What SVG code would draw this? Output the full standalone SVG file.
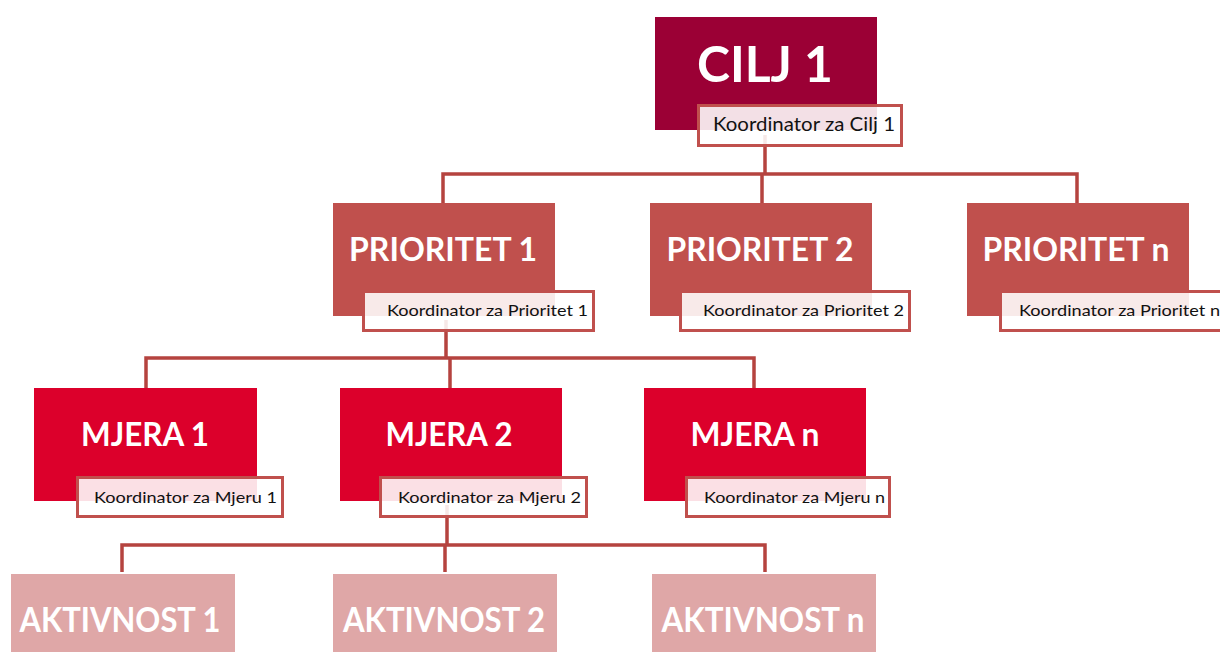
<svg xmlns="http://www.w3.org/2000/svg" width="1220" height="652" viewBox="0 0 1220 652">
<style>
.conn{fill:none;stroke:#b5433f;stroke-width:3.5;stroke-linejoin:miter;stroke-linecap:butt}
.cilj{fill:#9b0035}
.prio{fill:#c0504d}
.mjera{fill:#dc002b}
.akt{fill:#dfa7a7}
.coord{fill:#ffffff;fill-opacity:0.88;stroke:#c0504d;stroke-width:3}
.title{font-family:Lato,"Open Sans","Liberation Sans",sans-serif;font-weight:700;fill:#ffffff;text-anchor:middle}
.ct{font-family:Lato,"Open Sans","Liberation Sans",sans-serif;font-weight:400;fill:#111111;font-size:16px;text-anchor:end}
</style>
<rect width="1220" height="652" fill="#ffffff"/>
<g id="connectors">
<path class="conn" d="M765 135 V174 M443 204 V174 H1077 V204 M762 174 V204"/>
<path class="conn" d="M446 320 V358 M146 389 V358 H754 V389 M450 358 V389"/>
<path class="conn" d="M447 505 V545 M122 572 V545 H765 V572 M445 545 V572"/>
</g>
<g id="cilj1">
<rect class="cilj" x="655" y="17" width="222" height="113"/>
<text class="title" x="765" y="82" font-size="49" textLength="136" lengthAdjust="spacingAndGlyphs">CILJ 1</text>
<rect class="coord" x="698.5" y="105.5" width="203" height="40"/>
<text class="ct" x="895" y="131" font-size="19" style="font-size:19px" textLength="182" lengthAdjust="spacingAndGlyphs">Koordinator za Cilj 1</text>
</g>
<g id="prioritet1">
<rect class="prio" x="333" y="203" width="222" height="113"/>
<text class="title" x="443" y="261" font-size="33" textLength="188" lengthAdjust="spacingAndGlyphs">PRIORITET 1</text>
<rect class="coord" x="363.5" y="291.5" width="230" height="39"/>
<text class="ct" x="588" y="316" textLength="201" lengthAdjust="spacingAndGlyphs">Koordinator za Prioritet 1</text>
</g>
<g id="prioritet2">
<rect class="prio" x="650" y="203" width="222" height="113"/>
<text class="title" x="760" y="261" font-size="33" textLength="187" lengthAdjust="spacingAndGlyphs">PRIORITET 2</text>
<rect class="coord" x="680.5" y="291.5" width="229" height="39"/>
<text class="ct" x="904" y="316" textLength="201" lengthAdjust="spacingAndGlyphs">Koordinator za Prioritet 2</text>
</g>
<g id="prioritetn">
<rect class="prio" x="967" y="203" width="222" height="113"/>
<text class="title" x="1076" y="261" font-size="33" textLength="187" lengthAdjust="spacingAndGlyphs">PRIORITET n</text>
<rect class="coord" x="1000.5" y="291.5" width="229" height="39"/>
<text class="ct" x="1220" y="316" textLength="201" lengthAdjust="spacingAndGlyphs">Koordinator za Prioritet n</text>
</g>
<g id="mjera1">
<rect class="mjera" x="34" y="388" width="223" height="113"/>
<text class="title" x="145" y="446" font-size="33" textLength="128" lengthAdjust="spacingAndGlyphs">MJERA 1</text>
<rect class="coord" x="77.5" y="477.5" width="205" height="39"/>
<text class="ct" x="277" y="503" textLength="183" lengthAdjust="spacingAndGlyphs">Koordinator za Mjeru 1</text>
</g>
<g id="mjera2">
<rect class="mjera" x="340" y="388" width="222" height="113"/>
<text class="title" x="449" y="446" font-size="33" textLength="127" lengthAdjust="spacingAndGlyphs">MJERA 2</text>
<rect class="coord" x="380.5" y="477.5" width="206" height="39"/>
<text class="ct" x="581" y="503" textLength="183" lengthAdjust="spacingAndGlyphs">Koordinator za Mjeru 2</text>
</g>
<g id="mjeran">
<rect class="mjera" x="644" y="388" width="222" height="113"/>
<text class="title" x="755" y="446" font-size="33" textLength="129" lengthAdjust="spacingAndGlyphs">MJERA n</text>
<rect class="coord" x="686.5" y="477.5" width="203" height="39"/>
<text class="ct" x="885" y="503" textLength="181" lengthAdjust="spacingAndGlyphs">Koordinator za Mjeru n</text>
</g>
<g id="aktivnost1">
<rect class="akt" x="11" y="574" width="224" height="80"/>
<text class="title" x="120" y="632" font-size="35" textLength="201" lengthAdjust="spacingAndGlyphs">AKTIVNOST 1</text>
</g>
<g id="aktivnost2">
<rect class="akt" x="333" y="574" width="224" height="80"/>
<text class="title" x="444" y="632" font-size="35" textLength="202" lengthAdjust="spacingAndGlyphs">AKTIVNOST 2</text>
</g>
<g id="aktivnostn">
<rect class="akt" x="652" y="574" width="224" height="80"/>
<text class="title" x="763" y="632" font-size="35" textLength="203" lengthAdjust="spacingAndGlyphs">AKTIVNOST n</text>
</g>
</svg>
